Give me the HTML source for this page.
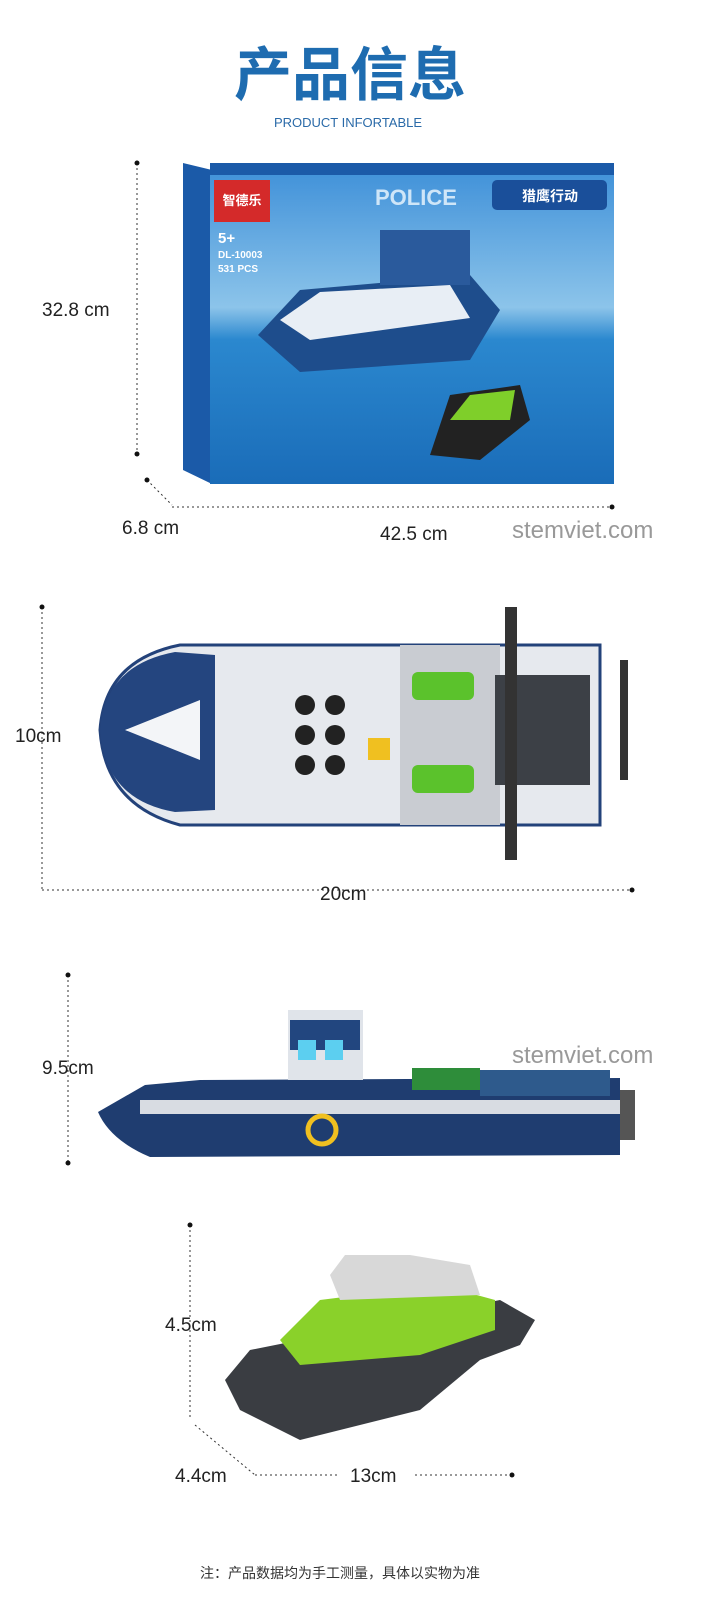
<!DOCTYPE html>
<html><head><meta charset="utf-8"><style>
body{margin:0;background:#fff;width:711px;height:1600px;overflow:hidden;font-family:"Liberation Sans","Noto Sans CJK SC",sans-serif}
</style></head><body>
<svg width="711" height="1600" viewBox="0 0 711 1600" xmlns="http://www.w3.org/2000/svg" style="font-family:'Liberation Sans','Noto Sans CJK SC',sans-serif">
<text x="350" y="95" text-anchor="middle" font-size="58" font-weight="bold" fill="#1e6cb0" font-family="'Noto Sans CJK SC',sans-serif">产品信息</text>
<text x="348" y="127" text-anchor="middle" font-size="13" fill="#2a6aa8">PRODUCT INFORTABLE</text>

<!-- box -->
<defs>
<linearGradient id="sky" x1="0" y1="0" x2="0" y2="1"><stop offset="0" stop-color="#3d8fd8"/><stop offset="0.45" stop-color="#8cc4ea"/><stop offset="0.55" stop-color="#2b88cf"/><stop offset="1" stop-color="#1a6cb8"/></linearGradient>
</defs>
<polygon points="183,163 212,170 212,484 183,470" fill="#1b5aa8"/>
<rect x="210" y="163" width="404" height="321" fill="url(#sky)"/>
<rect x="210" y="163" width="404" height="12" fill="#1b5aa8"/>
<rect x="214" y="180" width="56" height="42" fill="#d42a2a"/>
<text x="242" y="205" text-anchor="middle" font-size="13" fill="#fff" font-weight="bold">智德乐</text>
<text x="218" y="243" font-size="15" fill="#fff" font-weight="bold">5+</text>
<text x="218" y="258" font-size="10" fill="#fff" font-weight="bold">DL-10003</text>
<text x="218" y="272" font-size="10" fill="#fff" font-weight="bold">531 PCS</text>
<text x="375" y="205" font-size="22" fill="#cfe6f8" font-weight="bold">POLICE</text>
<rect x="492" y="180" width="115" height="30" rx="5" fill="#1a4f9a"/>
<text x="550" y="201" text-anchor="middle" font-size="14" fill="#fff" font-weight="bold">猎鹰行动</text>
<path d="M258 335 L300 290 L470 275 L500 310 L470 360 L300 372 Z" fill="#1e4d8c"/>
<path d="M280 320 L320 292 L450 285 L470 318 L310 340 Z" fill="#e8eef5"/>
<rect x="380" y="230" width="90" height="55" fill="#2a5a9c"/>
<path d="M430 455 L450 395 L520 385 L530 420 L480 460 Z" fill="#222"/>
<path d="M450 420 L470 395 L515 390 L510 420 Z" fill="#7fcf2a"/>
<!-- box dims -->
<g stroke="#333" stroke-width="1" stroke-dasharray="2,3" fill="none">
<line x1="137" y1="163" x2="137" y2="454"/>
<line x1="147" y1="480" x2="172" y2="505"/>
<line x1="172" y1="507" x2="612" y2="507"/>
</g>
<g fill="#111"><circle cx="137" cy="163" r="2.5"/><circle cx="137" cy="454" r="2.5"/><circle cx="147" cy="480" r="2.5"/><circle cx="612" cy="507" r="2.5"/></g>
<text x="42" y="316" font-size="19" fill="#222">32.8 cm</text>
<text x="122" y="534" font-size="19" fill="#222">6.8 cm</text>
<text x="380" y="540" font-size="19" fill="#222">42.5 cm</text>
<text x="512" y="538" font-size="24" fill="#999">stemviet.com</text>

<!-- top view boat -->
<path d="M100 730 Q105 660 180 645 L600 645 L600 825 L180 825 Q105 805 100 730 Z" fill="#e6e9ee" stroke="#23427a" stroke-width="3"/>
<path d="M100 730 Q105 665 175 652 L215 655 L215 810 L175 812 Q105 800 100 730Z" fill="#24457f"/>
<path d="M125 730 L200 700 L200 760 Z" fill="#f3f5f8"/>
<rect x="400" y="645" width="100" height="180" fill="#c9ccd2"/>
<rect x="495" y="675" width="95" height="110" fill="#3c4046"/>
<rect x="412" y="672" width="62" height="28" rx="6" fill="#5bc22c"/>
<rect x="412" y="765" width="62" height="28" rx="6" fill="#5bc22c"/>
<rect x="368" y="738" width="22" height="22" fill="#f0c020"/>
<g fill="#222"><circle cx="305" cy="705" r="10"/><circle cx="305" cy="735" r="10"/><circle cx="305" cy="765" r="10"/><circle cx="335" cy="705" r="10"/><circle cx="335" cy="735" r="10"/><circle cx="335" cy="765" r="10"/></g>
<rect x="505" y="607" width="12" height="253" fill="#333"/>
<rect x="620" y="660" width="8" height="120" fill="#333"/>
<g stroke="#333" stroke-width="1" stroke-dasharray="2,3" fill="none">
<line x1="42" y1="607" x2="42" y2="890"/><line x1="42" y1="890" x2="632" y2="890"/>
</g>
<g fill="#111"><circle cx="42" cy="607" r="2.5"/><circle cx="632" cy="890" r="2.5"/></g>
<text x="15" y="742" font-size="19" fill="#222">10cm</text>
<text x="320" y="900" font-size="19" fill="#222">20cm</text>

<!-- side view boat -->
<path d="M98 1112 L145 1085 L200 1080 L620 1078 L620 1155 L150 1157 Q110 1140 98 1112Z" fill="#1f3d70"/>
<rect x="140" y="1100" width="480" height="14" fill="#d8dce2"/>
<rect x="288" y="1010" width="75" height="70" fill="#e0e4ea"/>
<rect x="290" y="1020" width="70" height="30" fill="#22467f"/>
<rect x="298" y="1040" width="18" height="20" fill="#5ccff0"/><rect x="325" y="1040" width="18" height="20" fill="#5ccff0"/>
<rect x="412" y="1068" width="68" height="22" fill="#2e8d3a"/>
<rect x="480" y="1070" width="130" height="26" fill="#2e5a8c"/>
<circle cx="322" cy="1130" r="14" fill="none" stroke="#f0c020" stroke-width="5"/>
<rect x="620" y="1090" width="15" height="50" fill="#555"/>
<g stroke="#333" stroke-width="1" stroke-dasharray="2,3" fill="none"><line x1="68" y1="975" x2="68" y2="1163"/></g>
<g fill="#111"><circle cx="68" cy="975" r="2.5"/><circle cx="68" cy="1163" r="2.5"/></g>
<text x="42" y="1074" font-size="19" fill="#222">9.5cm</text>
<text x="512" y="1063" font-size="24" fill="#999">stemviet.com</text>

<!-- jet ski -->
<path d="M225 1380 L250 1350 L500 1300 L535 1320 L520 1345 L480 1360 L420 1410 L300 1440 L240 1410Z" fill="#3a3d42"/>
<path d="M280 1340 L320 1300 L440 1285 L495 1300 L495 1330 L420 1355 L300 1365Z" fill="#8ad12a"/>
<path d="M330 1275 L345 1255 L410 1255 L470 1265 L480 1295 L340 1300Z" fill="#d8d8d8"/>
<g stroke="#333" stroke-width="1" stroke-dasharray="2,3" fill="none">
<line x1="190" y1="1225" x2="190" y2="1420"/><line x1="195" y1="1425" x2="255" y2="1475"/><line x1="255" y1="1475" x2="340" y2="1475"/><line x1="415" y1="1475" x2="512" y2="1475"/>
</g>
<g fill="#111"><circle cx="190" cy="1225" r="2.5"/><circle cx="512" cy="1475" r="2.5"/></g>
<text x="165" y="1331" font-size="19" fill="#222">4.5cm</text>
<text x="175" y="1482" font-size="19" fill="#222">4.4cm</text>
<text x="350" y="1482" font-size="19" fill="#222">13cm</text>

<text x="340" y="1578" text-anchor="middle" font-size="14" fill="#333" font-family="'Noto Sans CJK SC',sans-serif">注：产品数据均为手工测量，具体以实物为准</text>
</svg>
</body></html>
